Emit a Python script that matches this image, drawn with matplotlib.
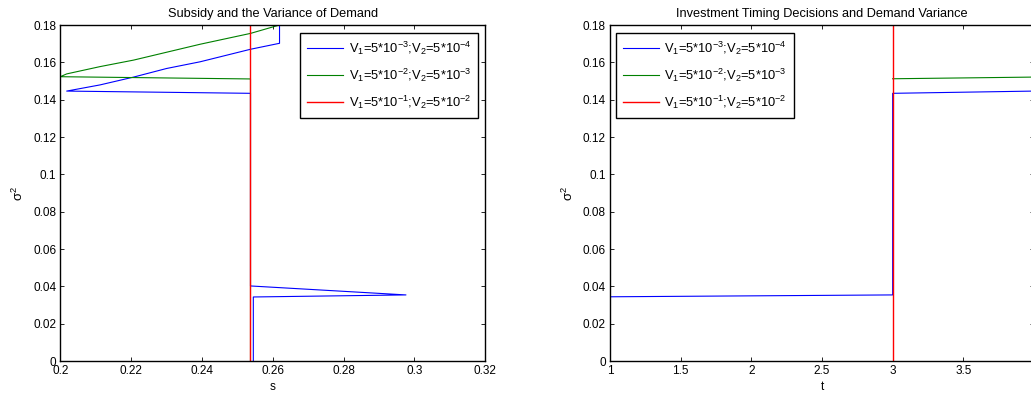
import matplotlib
matplotlib.use("Agg")
import matplotlib.pyplot as plt
from matplotlib.ticker import FixedLocator, FixedFormatter

plt.rcParams['font.family'] = ['Liberation Sans', 'DejaVu Sans']
plt.rcParams['mathtext.default'] = 'regular'
plt.rcParams['font.size'] = 8.5

# ---- data: left panel (s vs sigma^2) ----
s_blue = [0.2619, 0.2619, 0.2537, 0.2395, 0.2300, 0.2207, 0.2112, 0.2018,
          0.2537, 0.2537, 0.2976, 0.2545, 0.2545]
sig_blue_s = [0.1900, 0.1702, 0.1670, 0.1603, 0.1567, 0.1521, 0.1479, 0.1446,
              0.1434, 0.0402, 0.0354, 0.0343, 0.0000]
s_green = [0.2630, 0.2619, 0.2537, 0.2395, 0.2207, 0.2112, 0.2018, 0.2000,
           0.2537, 0.2537]
sig_green_s = [0.1806, 0.1800, 0.1755, 0.1697, 0.1612, 0.1577, 0.1538, 0.1523,
               0.1511, 0.0000]
s_red = [0.2537, 0.2537]
sig_red_s = [0.0000, 0.1900]

# ---- data: right panel (t vs sigma^2) ----
t_blue = [1.0, 1.0, 3.0, 3.0, 4.0]
sig_blue_t = [0.0000, 0.0344, 0.0354, 0.1434, 0.1446]
t_green = [3.0, 4.0]
sig_green_t = [0.1512, 0.1521]
t_red = [3.0, 3.0]
sig_red_t = [0.0000, 0.1900]

labels = [r'V$_1$=5*10$^{-3}$;V$_2$=5*10$^{-4}$',
          r'V$_1$=5*10$^{-2}$;V$_2$=5*10$^{-3}$',
          r'V$_1$=5*10$^{-1}$;V$_2$=5*10$^{-2}$']

y_ticks = [0, 0.02, 0.04, 0.06, 0.08, 0.1, 0.12, 0.14, 0.16, 0.18]
y_ticklabels = ['0', '0.02', '0.04', '0.06', '0.08', '0.1', '0.12', '0.14', '0.16', '0.18']
s_ticks = [0.2, 0.22, 0.24, 0.26, 0.28, 0.3, 0.32]
s_ticklabels = ['0.2', '0.22', '0.24', '0.26', '0.28', '0.3', '0.32']
t_ticks = [1, 1.5, 2, 2.5, 3, 3.5, 4]
t_ticklabels = ['1', '1.5', '2', '2.5', '3', '3.5', '4']

C_BLUE = (0, 0, 1)
C_GREEN = (0, 0.5, 0)
C_RED = (1, 0, 0)

W, H = 1031, 398
fig = plt.figure(figsize=(W / 100, H / 100), dpi=100)


def px_axes(x0, x1, ytop, ybot):
    return fig.add_axes([x0 / W, 1 - ybot / H, (x1 - x0) / W, (ybot - ytop) / H])


ax1 = px_axes(60.3, 485.3, 25, 361)
ax2 = px_axes(610, 1034, 25, 361)


def style(ax, xt, xtl, xlim):
    ax.set_xlim(*xlim)
    ax.set_ylim(0, 0.18)
    ax.xaxis.set_major_locator(FixedLocator(xt))
    ax.xaxis.set_major_formatter(FixedFormatter(xtl))
    ax.yaxis.set_major_locator(FixedLocator(y_ticks))
    ax.yaxis.set_major_formatter(FixedFormatter(y_ticklabels))
    ax.tick_params(direction='in', length=3, width=0.6, top=True, right=True,
                   labelsize=8.5, pad=3, color='black')
    for sp in ax.spines.values():
        sp.set_linewidth(1.0)
        sp.set_color('black')


lw = 0.8
l1, = ax1.plot(s_blue, sig_blue_s, color=C_BLUE, lw=lw)
l2, = ax1.plot(s_green, sig_green_s, color=C_GREEN, lw=lw)
l3, = ax1.plot(s_red, sig_red_s, color=C_RED, lw=1.0)
style(ax1, s_ticks, s_ticklabels, (0.2, 0.32))
ax1.set_title('Subsidy and the Variance of Demand', fontsize=9.2, pad=6)
ax1.set_xlabel('s', fontsize=8.5, labelpad=3)
ax1.set_ylabel(r'σ$^2$', fontsize=9.5, labelpad=5)

r1, = ax2.plot(t_blue, sig_blue_t, color=C_BLUE, lw=lw)
r2, = ax2.plot(t_green, sig_green_t, color=C_GREEN, lw=lw)
r3, = ax2.plot(t_red, sig_red_t, color=C_RED, lw=1.0)
style(ax2, t_ticks, t_ticklabels, (1, 4))
ax2.set_title('Investment Timing Decisions and Demand Variance', fontsize=9.2, pad=6)
ax2.set_xlabel('t', fontsize=8.5, labelpad=3)
ax2.set_ylabel(r'σ$^2$', fontsize=9.5, labelpad=5)

leg_kw = dict(fancybox=False, edgecolor='black', framealpha=1, borderaxespad=0,
              handlelength=2.8, handletextpad=0.4, labelspacing=0.75,
              borderpad=0.55, fontsize=9.3)
lg1 = ax1.legend([l1, l2, l3], labels, loc='upper right',
                 bbox_to_anchor=((478.3 - 60.3) / 425, (361 - 32.7) / 336), **leg_kw)
lg1.get_frame().set_linewidth(1.0)
lg2 = ax2.legend([r1, r2, r3], labels, loc='upper left',
                 bbox_to_anchor=((616 - 610) / 424, (361 - 32.7) / 336), **leg_kw)
lg2.get_frame().set_linewidth(1.0)

fig.savefig('out.png', dpi=100)
